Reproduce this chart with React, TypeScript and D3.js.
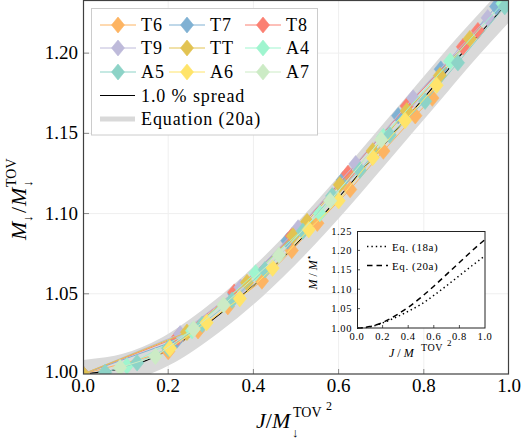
import React, { useEffect, useRef } from "react";
import * as d3 from "d3";

// Equation curves
const eqJ = [0, 0.1, 0.2, 0.3, 0.4, 0.5, 0.6, 0.7, 0.8, 0.9, 1.0];
const eq20a = [1.0, 1.004, 1.015, 1.033, 1.055, 1.081, 1.11, 1.141, 1.172, 1.203, 1.232];
const eq18a = [1.0, 1.003, 1.013, 1.027, 1.043, 1.061, 1.084, 1.109, 1.135, 1.161, 1.186];

const seriesNames = ["T6", "T7", "T8", "T9", "TT", "A4", "A5", "A6", "A7"];
const seriesColors = ["#fdb462", "#80b1d3", "#fb8072", "#bebada", "#e2c352", "#9ff5cf", "#8dd3c7", "#ffe46a", "#ccebc5"];

const T6 = [[0, 1.0], [0.2, 1.014], [0.27, 1.027], [0.34, 1.042], [0.42, 1.058], [0.49, 1.077], [0.55, 1.094], [0.627, 1.115], [0.705, 1.139], [0.78, 1.161], [0.82, 1.172]];
const T7 = [[0, 1.0], [0.22, 1.021], [0.355, 1.05], [0.48, 1.083], [0.61, 1.121], [0.74, 1.161], [0.84, 1.19], [0.97, 1.229]];
const T8 = [[0, 1.0], [0.223, 1.023], [0.355, 1.051], [0.49, 1.086], [0.622, 1.125], [0.76, 1.167], [0.892, 1.204], [0.927, 1.214]];
const T9 = [[0, 1.0], [0.228, 1.025], [0.37, 1.054], [0.505, 1.091], [0.64, 1.131], [0.775, 1.172], [0.95, 1.222]];
const TT = [[0, 1.0], [0.244, 1.026], [0.385, 1.057], [0.493, 1.086], [0.526, 1.095], [0.603, 1.118], [0.68, 1.139], [0.76, 1.164], [0.838, 1.186], [0.908, 1.209]];
const A4 = [[0.103, 1.005], [0.256, 1.027], [0.405, 1.063], [0.556, 1.1], [0.705, 1.148], [0.862, 1.195], [0.985, 1.231]];
const A5 = [[0.052, 1.001], [0.127, 1.007], [0.2, 1.016], [0.28, 1.031], [0.35, 1.046], [0.427, 1.065], [0.516, 1.089], [0.585, 1.111], [0.65, 1.127], [0.72, 1.149], [0.803, 1.17], [0.88, 1.194], [0.99, 1.229]];
const A6 = [[0.204, 1.016], [0.29, 1.032], [0.368, 1.047], [0.445, 1.066], [0.53, 1.09], [0.6, 1.108], [0.68, 1.135], [0.756, 1.158], [0.83, 1.18]];
const A7 = [[0.087, 1.004], [0.17, 1.011], [0.26, 1.028], [0.33, 1.043], [0.46, 1.074], [0.58, 1.108], [0.7, 1.146]];
const seriesData = [T6, T7, T8, T9, TT, A4, A5, A6, A7];

const xTicks = [0, 0.2, 0.4, 0.6, 0.8, 1.0];
const yTicks = [1.0, 1.05, 1.1, 1.15, 1.2];
const insetXTicks = [0, 0.2, 0.4, 0.6, 0.8, 1.0];
const insetYTicks = [1.0, 1.05, 1.1, 1.15, 1.2, 1.25];

const FONT = "'Liberation Serif', 'DejaVu Serif', serif";

const diamond = (x: number, y: number, hw = 6.7, hh = 8.3) =>
  `M${x},${y - hh}L${x + hw},${y}L${x},${y + hh}L${x - hw},${y}Z`;

export default function App() {
  const ref = useRef<SVGSVGElement>(null);

  useEffect(() => {
    const svg = d3.select(ref.current);
    svg.selectAll("*").remove();

    const x = d3.scaleLinear().domain([0, 1]).range([83, 509]);
    const y = d3.scaleLinear().domain([1.0, 1.2325]).range([374, 1]);

    svg.append("defs").append("clipPath").attr("id", "plotclip")
      .append("rect").attr("x", 83).attr("y", 1).attr("width", 426).attr("height", 373);

    // grid
    const grid = svg.append("g");
    grid.selectAll(".gx").data(xTicks.slice(1, -1)).join("line")
      .attr("x1", d => x(d)).attr("x2", d => x(d)).attr("y1", 1).attr("y2", 374)
      .attr("stroke", "#efefef").attr("stroke-width", 1);
    grid.selectAll(".gy").data(yTicks.slice(1)).join("line")
      .attr("y1", d => y(d)).attr("y2", d => y(d)).attr("x1", 83).attr("x2", 509)
      .attr("stroke", "#efefef").attr("stroke-width", 1);

    const plot = svg.append("g").attr("clip-path", "url(#plotclip)");
    const eqPts = eqJ.map((j, i) => [j, eq20a[i]] as [number, number]);
    const curveLine = d3.line<[number, number]>().x(d => x(d[0])).y(d => y(d[1])).curve(d3.curveMonotoneX);

    // Equation (20a) band
    plot.append("path").attr("d", curveLine(eqPts))
      .attr("fill", "none").attr("stroke", "#d9d9d9").attr("stroke-width", 28);
    // thin black line
    plot.append("path").attr("d", curveLine(eqPts))
      .attr("fill", "none").attr("stroke", "#000").attr("stroke-width", 1.1);

    const lin = d3.line<number[]>().x(d => x(d[0])).y(d => y(d[1]));
    seriesData.forEach((s, i) => {
      const g = plot.append("g");
      g.append("path").attr("d", lin(s)).attr("fill", "none")
        .attr("stroke", seriesColors[i]).attr("stroke-width", 1);
      g.selectAll("path.m").data(s).join("path").attr("class", "m")
        .attr("d", d => diamond(x(d[0]), y(d[1])))
        .attr("fill", seriesColors[i]).attr("stroke", seriesColors[i]).attr("stroke-width", 0.6);
    });

    // ticks
    const ax = svg.append("g");
    ax.selectAll(".tx").data(xTicks.slice(1, -1)).join("line")
      .attr("x1", d => x(d)).attr("x2", d => x(d)).attr("y1", 374).attr("y2", 369)
      .attr("stroke", "#888");
    ax.selectAll(".ty").data(yTicks.slice(1)).join("line")
      .attr("y1", d => y(d)).attr("y2", d => y(d)).attr("x1", 83).attr("x2", 89)
      .attr("stroke", "#888");

    // frame
    svg.append("rect").attr("x", 83.5).attr("y", 0.5).attr("width", 425).attr("height", 373.5)
      .attr("fill", "none").attr("stroke", "#404040").attr("stroke-width", 1.2);

    // tick labels
    svg.append("g").selectAll("text").data(xTicks).join("text")
      .attr("x", d => x(d)).attr("y", 392).attr("text-anchor", "middle")
      .attr("font-family", FONT).attr("font-size", 19).text(d => d.toFixed(1));
    svg.append("g").selectAll("text").data(yTicks).join("text")
      .attr("x", 78).attr("y", d => y(d) + (d === 1.0 ? 4 : 6)).attr("text-anchor", "end")
      .attr("font-family", FONT).attr("font-size", 19).text(d => d.toFixed(2));

    // x label
    const xl = svg.append("g").attr("font-family", FONT);
    const xt = xl.append("text").attr("x", 256).attr("y", 428).attr("font-size", 22);
    xt.append("tspan").attr("font-style", "italic").text("J");
    xt.append("tspan").text("/");
    xt.append("tspan").attr("font-style", "italic").text("M");
    xl.append("text").attr("x", 292).attr("y", 437).attr("font-size", 13).text("↓");
    xl.append("text").attr("x", 293).attr("y", 417).attr("font-size", 14).text("TOV");
    xl.append("text").attr("x", 326).attr("y", 410).attr("font-size", 12).text("2");

    // y label
    const yl = svg.append("g").attr("font-family", FONT).attr("transform", "translate(26,0) rotate(-90)");
    yl.append("text").attr("x", -240).attr("y", 0).attr("font-size", 22).attr("font-style", "italic").text("M");
    yl.append("text").attr("x", -222).attr("y", 6).attr("font-size", 13).text("↓");
    yl.append("text").attr("x", -213).attr("y", 0).attr("font-size", 22).text("/");
    yl.append("text").attr("x", -206).attr("y", 0).attr("font-size", 22).attr("font-style", "italic").text("M");
    yl.append("text").attr("x", -187).attr("y", 6).attr("font-size", 13).text("↓");
    yl.append("text").attr("x", -187).attr("y", -10).attr("font-size", 14).text("TOV");

    // legend
    const lg = svg.append("g").attr("font-family", FONT);
    lg.append("rect").attr("x", 91.5).attr("y", 8.5).attr("width", 226).attr("height", 126.5)
      .attr("fill", "#fff").attr("stroke", "#cccccc").attr("stroke-width", 1);
    const colX = [118, 187, 263];
    const rowY = [25, 48, 72];
    seriesNames.forEach((n, i) => {
      const cx = colX[i % 3];
      const cy = rowY[Math.floor(i / 3)];
      lg.append("line").attr("x1", cx - 18).attr("x2", cx + 18).attr("y1", cy).attr("y2", cy)
        .attr("stroke", seriesColors[i]).attr("stroke-width", 1);
      lg.append("path").attr("d", diamond(cx, cy, 6.5, 8)).attr("fill", seriesColors[i])
        .attr("stroke", seriesColors[i]).attr("stroke-width", 0.6);
      lg.append("text").attr("x", cx + 23).attr("y", cy + 6).attr("font-size", 18)
        .attr("letter-spacing", 0.9).text(n);
    });
    lg.append("line").attr("x1", 100).attr("x2", 135).attr("y1", 95.5).attr("y2", 95.5)
      .attr("stroke", "#000").attr("stroke-width", 1);
    lg.append("text").attr("x", 141).attr("y", 101.5).attr("font-size", 18)
      .attr("letter-spacing", 0.9).text("1.0 % spread");
    lg.append("line").attr("x1", 100).attr("x2", 135).attr("y1", 119).attr("y2", 119)
      .attr("stroke", "#d9d9d9").attr("stroke-width", 5);
    lg.append("text").attr("x", 141).attr("y", 125).attr("font-size", 18)
      .attr("letter-spacing", 0.9).text("Equation (20a)");

    // inset
    const ix = d3.scaleLinear().domain([0, 1]).range([357, 485]);
    const iy = d3.scaleLinear().domain([1.0, 1.25]).range([328, 231]);
    const ins = svg.append("g").attr("font-family", FONT);
    ins.append("rect").attr("x", 357).attr("y", 231).attr("width", 128).attr("height", 97)
      .attr("fill", "#fff");
    ins.selectAll(".itx").data(insetXTicks.slice(1, -1)).join("line")
      .attr("x1", d => ix(d)).attr("x2", d => ix(d)).attr("y1", 328).attr("y2", 325)
      .attr("stroke", "#555");
    ins.selectAll(".ity").data(insetYTicks.slice(1, -1)).join("line")
      .attr("y1", d => iy(d)).attr("y2", d => iy(d)).attr("x1", 357).attr("x2", 360)
      .attr("stroke", "#555");
    const iline = d3.line<[number, number]>().x(d => ix(d[0])).y(d => iy(d[1])).curve(d3.curveMonotoneX);
    ins.append("path").attr("d", iline(eqJ.map((j, i) => [j, eq18a[i]] as [number, number])))
      .attr("fill", "none").attr("stroke", "#000").attr("stroke-width", 1.5).attr("stroke-dasharray", "1.4 3");
    ins.append("path").attr("d", iline(eqJ.map((j, i) => [j, eq20a[i] - 0.004 * j] as [number, number])))
      .attr("fill", "none").attr("stroke", "#000").attr("stroke-width", 1.5).attr("stroke-dasharray", "5.5 4");
    ins.append("rect").attr("x", 357.5).attr("y", 231.5).attr("width", 127.5).attr("height", 96.5)
      .attr("fill", "none").attr("stroke", "#222").attr("stroke-width", 1);
    ins.selectAll(".ixl").data(insetXTicks).join("text")
      .attr("x", d => ix(d)).attr("y", 340).attr("text-anchor", "middle")
      .attr("font-size", 10.5).attr("letter-spacing", 0.6).text(d => d.toFixed(1));
    ins.selectAll(".iyl").data(insetYTicks).join("text")
      .attr("x", 352).attr("y", d => iy(d) + 3.5).attr("text-anchor", "end")
      .attr("font-size", 10.5).attr("letter-spacing", 0.6).text(d => d.toFixed(2));
    // inset legend
    ins.append("line").attr("x1", 367).attr("x2", 388).attr("y1", 246.5).attr("y2", 246.5)
      .attr("stroke", "#000").attr("stroke-width", 1.5).attr("stroke-dasharray", "1.4 3");
    ins.append("text").attr("x", 392).attr("y", 250.5).attr("font-size", 11)
      .attr("letter-spacing", 0.6).text("Eq. (18a)");
    ins.append("line").attr("x1", 367).attr("x2", 388).attr("y1", 265.5).attr("y2", 265.5)
      .attr("stroke", "#000").attr("stroke-width", 1.5).attr("stroke-dasharray", "5.5 4");
    ins.append("text").attr("x", 392).attr("y", 269.5).attr("font-size", 11)
      .attr("letter-spacing", 0.6).text("Eq. (20a)");
    // inset labels
    const ixl = ins.append("text").attr("x", 389).attr("y", 357).attr("font-size", 12);
    ixl.append("tspan").attr("font-style", "italic").text("J");
    ixl.append("tspan").text(" / ");
    ixl.append("tspan").attr("font-style", "italic").text("M");
    ins.append("text").attr("x", 421).attr("y", 351).attr("font-size", 10).attr("letter-spacing", 0.5).text("TOV");
    ins.append("text").attr("x", 447).attr("y", 346).attr("font-size", 9).text("2");
    const iyl = ins.append("text").attr("transform", "translate(317,272) rotate(-90)")
      .attr("text-anchor", "middle").attr("font-size", 12);
    iyl.append("tspan").attr("font-style", "italic").text("M");
    iyl.append("tspan").text(" / ");
    iyl.append("tspan").attr("font-style", "italic").text("M");
    iyl.append("tspan").attr("dy", -5).attr("font-size", 9).attr("font-family", "'DejaVu Sans'").text("⋆");
  }, []);

  return (
    <svg ref={ref} width={528} height={439}
      style={{ position: "absolute", left: 0, top: 0, background: "#fff" }} />
  );
}
